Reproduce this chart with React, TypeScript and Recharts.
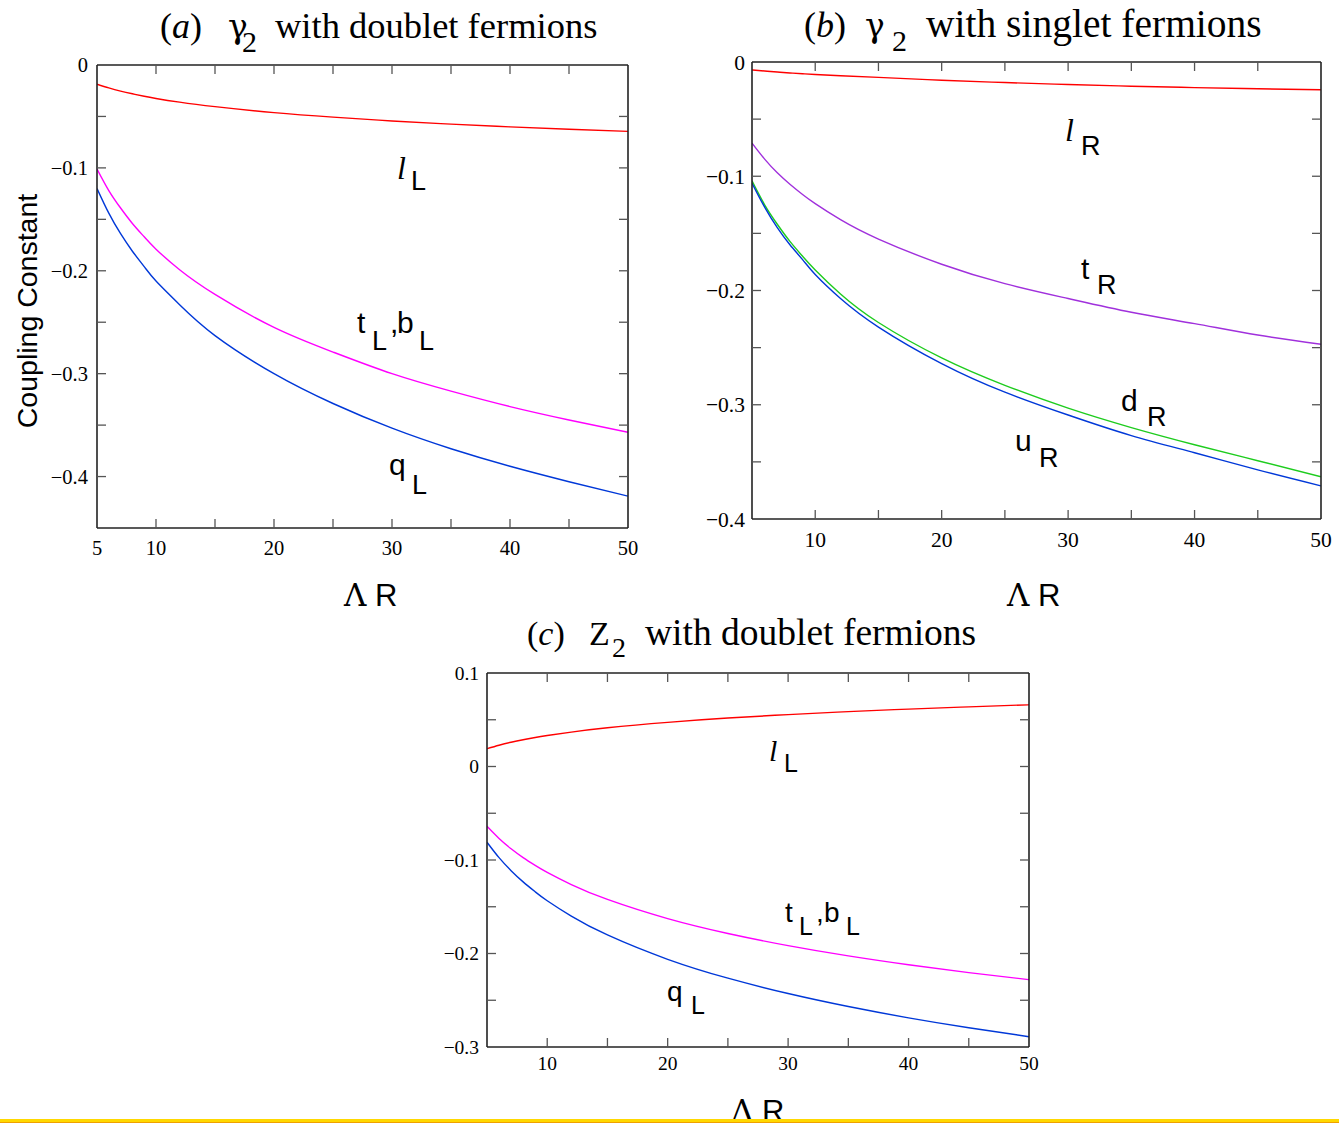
import React from "react";
import { Line, LineChart, XAxis, YAxis } from "recharts";

const lambdaR = [5, 6, 7, 8, 9, 10, 12, 15, 20, 25, 30, 35, 40, 45, 50];

// (a) gamma_2 with doublet fermions
const aLepton = [-0.0187, -0.0223, -0.0254, -0.028, -0.0304, -0.0325, -0.0361, -0.0405, -0.0463, -0.0507, -0.0544, -0.0575, -0.0601, -0.0625, -0.0645];
const aTopBottom = [-0.101, -0.122, -0.139, -0.154, -0.167, -0.179, -0.199, -0.223, -0.255, -0.279, -0.3, -0.317, -0.332, -0.345, -0.357];
const aQuark = [-0.12, -0.144, -0.164, -0.181, -0.196, -0.21, -0.233, -0.263, -0.3, -0.329, -0.353, -0.373, -0.39, -0.405, -0.419];

// (b) gamma_2 with singlet fermions
const bLepton = [-0.007, -0.0079, -0.0088, -0.0096, -0.0103, -0.011, -0.0121, -0.0135, -0.016, -0.018, -0.0197, -0.0212, -0.0224, -0.0234, -0.0243];
const bTop = [-0.071, -0.085, -0.097, -0.107, -0.116, -0.124, -0.138, -0.155, -0.177, -0.194, -0.207, -0.219, -0.229, -0.239, -0.247];
const bDown = [-0.104, -0.125, -0.142, -0.157, -0.17, -0.182, -0.203, -0.228, -0.259, -0.283, -0.303, -0.32, -0.335, -0.349, -0.363];
const bUp = [-0.106, -0.127, -0.145, -0.16, -0.173, -0.186, -0.207, -0.232, -0.264, -0.289, -0.309, -0.327, -0.342, -0.357, -0.371];

// (c) Z_2 with doublet fermions
const cLepton = [0.019, 0.0227, 0.0259, 0.0286, 0.031, 0.0331, 0.0368, 0.0414, 0.0472, 0.0518, 0.0555, 0.0587, 0.0614, 0.0638, 0.066];
const cTopBottom = [-0.064, -0.077, -0.088, -0.0975, -0.1058, -0.1133, -0.1263, -0.1422, -0.1627, -0.1786, -0.1916, -0.2026, -0.2121, -0.2205, -0.228];
const cQuark = [-0.081, -0.0975, -0.1114, -0.1234, -0.134, -0.1436, -0.16, -0.1802, -0.2062, -0.2264, -0.2428, -0.2567, -0.2688, -0.2794, -0.289];

const xTicks = [5, 10, 15, 20, 25, 30, 35, 40, 45, 50];
const aXLabels = [5, 10, 20, 30, 40, 50];
const bcXLabels = [10, 20, 30, 40, 50];
const aYTicks = [0, -0.05, -0.1, -0.15, -0.2, -0.25, -0.3, -0.35, -0.4, -0.45];
const aYLabels = [0, -0.1, -0.2, -0.3, -0.4];
const bYTicks = [0, -0.05, -0.1, -0.15, -0.2, -0.25, -0.3, -0.35, -0.4];
const bYLabels = [0, -0.1, -0.2, -0.3, -0.4];
const cYTicks = [0.1, 0.05, 0, -0.05, -0.1, -0.15, -0.2, -0.25, -0.3];
const cYLabels = [0.1, 0, -0.1, -0.2, -0.3];

const RED = "#ff0000";
const MAGENTA = "#ff00ff";
const BLUE = "#0038d8";
const PURPLE = "#a030dc";
const GREEN = "#1ecc1e";

const SERIF = "'Liberation Serif', 'DejaVu Serif', serif";
const GREEK = "'DejaVu Serif', serif";
const SANS = "'Liberation Sans', Arial, sans-serif";
const TICK = 9;
const TICK_COLOR = "#555";
const FRAME = { stroke: "#222", strokeWidth: 1.6 };

const fmt = (v: number) => (v < 0 ? "\u2212" + String(Math.abs(v)) : String(v));
const near = (a: number, b: number) => Math.abs(a - b) < 1e-9;

type Series = { key: string; values: number[]; color: string };
type PanelProps = {
  plot: { l: number; t: number; r: number; b: number };
  yDomain: [number, number];
  yTicks: number[];
  yLabels: number[];
  xLabels: number[];
  series: Series[];
  fontSize: number;
  xLabelDy: number;
  yLabelGap: number;
};

function Panel({ plot, yDomain, yTicks, yLabels, xLabels, series, fontSize, xLabelDy, yLabelGap }: PanelProps) {
  // pad = room outside the plot rectangle; each axis takes 1px of it
  const pad = { l: 70, t: 20, r: 30, b: 40 };
  const width = plot.r - plot.l + pad.l + pad.r;
  const height = plot.b - plot.t + pad.t + pad.b;
  const rows = lambdaR.map((x, i) => {
    const row: Record<string, number> = { x };
    series.forEach((s) => (row[s.key] = s.values[i]));
    return row;
  });
  const isXEdge = (v: number) => near(v, 5) || near(v, 50);
  const isYEdge = (v: number) => near(v, yDomain[0]) || near(v, yDomain[1]);

  const bottomTick = (p: any) => {
    const v = p.payload.value;
    return (
      <g>
        {!isXEdge(v) && <line x1={p.x} x2={p.x} y1={p.y} y2={p.y - TICK} stroke={TICK_COLOR} strokeWidth={1.3} />}
        {xLabels.some((l) => near(l, v)) && (
          <text x={p.x} y={p.y + xLabelDy} textAnchor="middle" fontFamily={SERIF} fontSize={fontSize} fill="#000">
            {v}
          </text>
        )}
      </g>
    );
  };
  const topTick = (p: any) => {
    const v = p.payload.value;
    if (isXEdge(v)) return <g />;
    return <line x1={p.x} x2={p.x} y1={p.y} y2={p.y + TICK} stroke={TICK_COLOR} strokeWidth={1.3} />;
  };
  const leftTick = (p: any) => {
    const v = p.payload.value;
    return (
      <g>
        {!isYEdge(v) && <line x1={p.x} x2={p.x + TICK} y1={p.y} y2={p.y} stroke={TICK_COLOR} strokeWidth={1.3} />}
        {yLabels.some((l) => near(l, v)) && (
          <text x={p.x - yLabelGap} y={p.y} dy="0.35em" textAnchor="end" fontFamily={SERIF} fontSize={fontSize} fill="#000">
            {fmt(v)}
          </text>
        )}
      </g>
    );
  };
  const rightTick = (p: any) => {
    const v = p.payload.value;
    if (isYEdge(v)) return <g />;
    return <line x1={p.x} x2={p.x - TICK} y1={p.y} y2={p.y} stroke={TICK_COLOR} strokeWidth={1.3} />;
  };

  return (
    <div style={{ position: "absolute", left: plot.l - pad.l, top: plot.t - pad.t }}>
      <LineChart width={width} height={height} data={rows} margin={{ left: pad.l - 1, top: pad.t - 1, right: pad.r - 1, bottom: pad.b - 1 }}>
        <XAxis dataKey="x" type="number" domain={[5, 50]} ticks={xTicks} interval={0} height={1} tickSize={0} tickMargin={0} tickLine={false} tick={bottomTick} axisLine={FRAME} allowDataOverflow />
        <XAxis xAxisId="top" orientation="top" dataKey="x" type="number" domain={[5, 50]} ticks={xTicks} interval={0} height={1} tickSize={0} tickMargin={0} tickLine={false} tick={topTick} axisLine={FRAME} allowDataOverflow />
        <YAxis type="number" domain={yDomain} ticks={yTicks} interval={0} width={1} tickSize={0} tickMargin={0} tickLine={false} tick={leftTick} axisLine={FRAME} allowDataOverflow />
        <YAxis yAxisId="right" orientation="right" type="number" domain={yDomain} ticks={yTicks} interval={0} width={1} tickSize={0} tickMargin={0} tickLine={false} tick={rightTick} axisLine={FRAME} allowDataOverflow />
        {series.map((s) => (
          <Line key={s.key} dataKey={s.key} type="natural" stroke={s.color} strokeWidth={1.4} dot={false} activeDot={false} isAnimationActive={false} />
        ))}
      </LineChart>
    </div>
  );
}

type Glyph = [string, number, number, number, boolean?];

function Label({ glyphs }: { glyphs: Glyph[] }) {
  return (
    <g>
      {glyphs.map(([ch, x, y, size, serifItalic], i) => (
        <text key={i} x={x} y={y} fontSize={size} fontFamily={serifItalic ? SERIF : SANS} fontStyle={serifItalic ? "italic" : "normal"} fill="#000">
          {ch}
        </text>
      ))}
    </g>
  );
}

function AxisTitle({ x, y, size }: { x: number; y: number; size: number }) {
  return (
    <g>
      <text x={x} y={y} fontFamily={GREEK} fontSize={size} fill="#000">{"\u039B"}</text>
      <text x={x + size} y={y} fontFamily={SANS} fontSize={size} fill="#000">R</text>
    </g>
  );
}

export default function App() {
  return (
    <div style={{ position: "absolute", left: 0, top: 0, width: 1339, height: 1123, overflow: "hidden", background: "#fff" }}>
      <Panel
        plot={{ l: 97, t: 65, r: 628, b: 528 }}
        yDomain={[-0.45, 0]}
        yTicks={aYTicks}
        yLabels={aYLabels}
        xLabels={aXLabels}
        series={[
          { key: "lL", values: aLepton, color: RED },
          { key: "tLbL", values: aTopBottom, color: MAGENTA },
          { key: "qL", values: aQuark, color: BLUE },
        ]}
        fontSize={20.5}
        xLabelDy={27}
        yLabelGap={9}
      />
      <Panel
        plot={{ l: 752, t: 62, r: 1321, b: 519 }}
        yDomain={[-0.4, 0]}
        yTicks={bYTicks}
        yLabels={bYLabels}
        xLabels={bcXLabels}
        series={[
          { key: "lR", values: bLepton, color: RED },
          { key: "tR", values: bTop, color: PURPLE },
          { key: "dR", values: bDown, color: GREEN },
          { key: "uR", values: bUp, color: BLUE },
        ]}
        fontSize={21.5}
        xLabelDy={28}
        yLabelGap={7}
      />
      <Panel
        plot={{ l: 487, t: 673, r: 1029, b: 1047 }}
        yDomain={[-0.3, 0.1]}
        yTicks={cYTicks}
        yLabels={cYLabels}
        xLabels={bcXLabels}
        series={[
          { key: "lL", values: cLepton, color: RED },
          { key: "tLbL", values: cTopBottom, color: MAGENTA },
          { key: "qL", values: cQuark, color: BLUE },
        ]}
        fontSize={19.5}
        xLabelDy={23}
        yLabelGap={8}
      />

      <svg width={1339} height={1123} style={{ position: "absolute", left: 0, top: 0, pointerEvents: "none" }}>
        {/* titles */}
        <text x={160} y={38} fontFamily={SERIF} fontSize={36} fill="#000">
          (<tspan fontStyle="italic">a</tspan>)
        </text>
        <text x={228} y={38} fontFamily={GREEK} fontSize={33} fill="#000">{"\u03B3"}</text>
        <text x={242} y={52} fontFamily={SERIF} fontSize={30} fill="#000">2</text>
        <text x={275} y={38} fontFamily={SERIF} fontSize={36.5} fill="#000">with doublet fermions</text>

        <text x={804} y={37} fontFamily={SERIF} fontSize={36} fill="#000">
          (<tspan fontStyle="italic">b</tspan>)
        </text>
        <text x={865} y={37} fontFamily={GREEK} fontSize={33} fill="#000">{"\u03B3"}</text>
        <text x={892} y={51} fontFamily={SERIF} fontSize={30} fill="#000">2</text>
        <text x={926} y={37} fontFamily={SERIF} fontSize={39.5} fill="#000">with singlet fermions</text>

        <text x={527} y={645} fontFamily={SERIF} fontSize={34} fill="#000">
          (<tspan fontStyle="italic">c</tspan>)
        </text>
        <text x={589} y={645} fontFamily={SERIF} fontSize={34} fill="#000">Z</text>
        <text x={612} y={657} fontFamily={SERIF} fontSize={28} fill="#000">2</text>
        <text x={645} y={645} fontFamily={SERIF} fontSize={37.5} fill="#000">with doublet fermions</text>

        {/* axis titles */}
        <text transform="translate(37,311) rotate(-90)" textAnchor="middle" fontFamily={SANS} fontSize={28.5} fill="#000">
          Coupling Constant
        </text>
        <AxisTitle x={344} y={606} size={31} />
        <AxisTitle x={1007} y={606} size={31} />
        <AxisTitle x={731} y={1122} size={31} />

        {/* curve labels, panel a */}
        <Label glyphs={[["l", 397, 179, 32, true], ["L", 411, 190, 27]]} />
        <Label glyphs={[["t", 357, 333, 30], ["L", 372, 350, 27], [",", 390, 333, 30], ["b", 397, 333, 30], ["L", 419, 350, 27]]} />
        <Label glyphs={[["q", 389, 475, 30], ["L", 412, 494, 27]]} />

        {/* panel b */}
        <Label glyphs={[["l", 1065, 141, 32, true], ["R", 1081, 155, 27]]} />
        <Label glyphs={[["t", 1081, 279, 30], ["R", 1097, 294, 27]]} />
        <Label glyphs={[["d", 1121, 411, 30], ["R", 1147, 426, 27]]} />
        <Label glyphs={[["u", 1015, 451, 30], ["R", 1039, 467, 27]]} />

        {/* panel c */}
        <Label glyphs={[["l", 769, 761, 30, true], ["L", 784, 772, 25]]} />
        <Label glyphs={[["t", 785, 922, 28], ["L", 799, 935, 25], [",", 816, 922, 28], ["b", 824, 922, 28], ["L", 846, 935, 25]]} />
        <Label glyphs={[["q", 667, 1001, 28], ["L", 691, 1014, 25]]} />
      </svg>

      <div style={{ position: "absolute", left: 0, top: 1119, width: 1339, height: 3, background: "#ffd800", borderBottom: "1px solid #f0a000" }} />
    </div>
  );
}
